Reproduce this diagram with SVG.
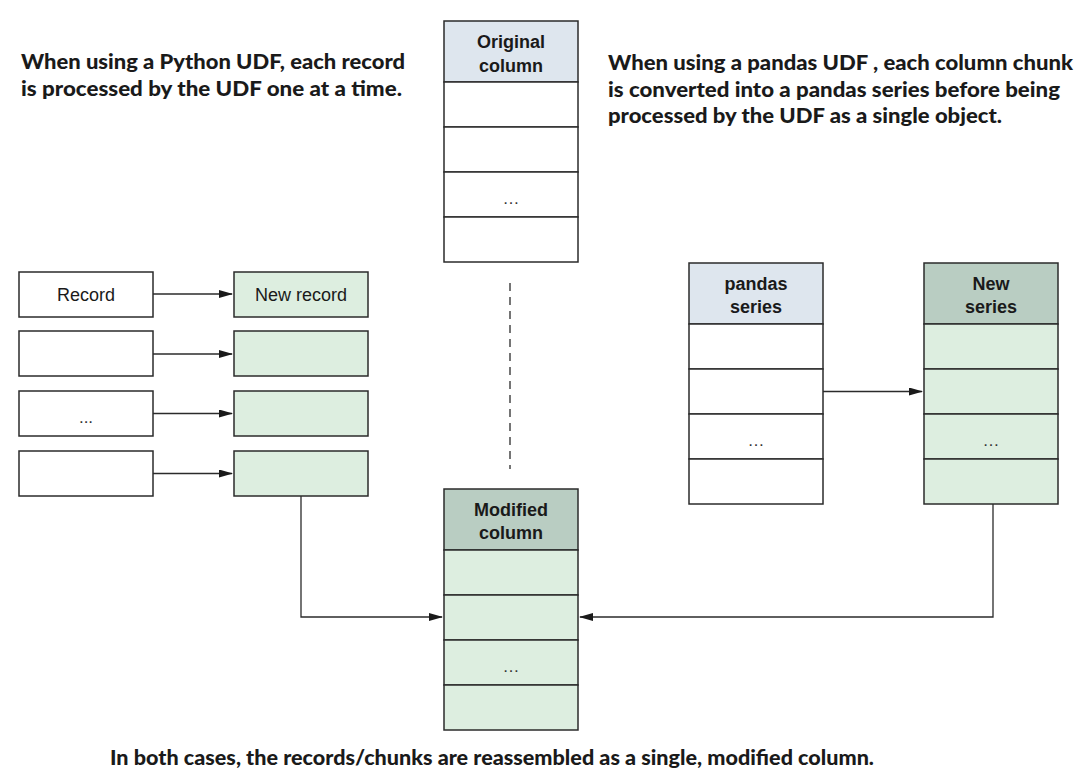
<svg xmlns="http://www.w3.org/2000/svg" width="1084" height="784" viewBox="0 0 1084 784">
<defs>
<marker id="ah" markerWidth="14" markerHeight="8" refX="13" refY="4" orient="auto" markerUnits="userSpaceOnUse">
<path d="M0,0 L14,4 L0,8 Z" fill="#1a1a1a"/>
</marker>
<style>
.box{stroke:#2b2b2b;stroke-width:1.5}
.w{fill:#ffffff}
.blue{fill:#dee6ee}
.dg{fill:#b9cdc2}
.lg{fill:#ddeee0}
.hd{font-family:"Liberation Sans",Arial,sans-serif;font-weight:bold;font-size:18px;fill:#1a1a1a;text-anchor:middle}
.rg{font-family:"Liberation Sans",Arial,sans-serif;font-size:18px;fill:#1a1a1a;text-anchor:middle}
.el{font-family:"Liberation Sans",Arial,sans-serif;font-size:17px;fill:#333;text-anchor:middle}
.an{font-family:Lato,"Open Sans",sans-serif;font-weight:900;font-size:21px;fill:#1a1a1a}
.conn{fill:none;stroke:#2b2b2b;stroke-width:1.3}
</style>
</defs>
<rect width="1084" height="784" fill="#ffffff"/>

<g id="note-left">
<text class="an" x="21" y="69" textLength="384" lengthAdjust="spacingAndGlyphs">When using a Python UDF, each record</text>
<text class="an" x="21" y="96" textLength="381" lengthAdjust="spacingAndGlyphs">is processed by the UDF one at a time.</text>
</g>
<g id="note-right">
<text class="an" x="608" y="70" textLength="465" lengthAdjust="spacingAndGlyphs">When using a pandas UDF , each column chunk</text>
<text class="an" x="608" y="97" textLength="452" lengthAdjust="spacingAndGlyphs">is converted into a pandas series before being</text>
<text class="an" x="608" y="123" textLength="394" lengthAdjust="spacingAndGlyphs">processed by the UDF as a single object.</text>
</g>
<g id="note-bottom">
<text class="an" x="110" y="765" textLength="764" lengthAdjust="spacingAndGlyphs">In both cases, the records/chunks are reassembled as a single, modified column.</text>
</g>

<g id="original-column">
<rect class="box blue" x="444" y="21" width="134" height="61"/>
<rect class="box w" x="444" y="82" width="134" height="45"/>
<rect class="box w" x="444" y="127" width="134" height="45"/>
<rect class="box w" x="444" y="172" width="134" height="45"/>
<rect class="box w" x="444" y="217" width="134" height="45"/>
<text class="hd" x="511" y="48">Original</text>
<text class="hd" x="511" y="72">column</text>
<text class="el" x="511" y="204">…</text>
</g>

<g id="record-1">
<rect class="box w" x="19" y="272" width="134" height="45"/>
<text class="rg" x="86" y="301">Record</text>
</g>
<g id="record-2"><rect class="box w" x="19" y="331" width="134" height="45"/></g>
<g id="record-3">
<rect class="box w" x="19" y="391" width="134" height="45"/>
<text class="el" x="86" y="423">...</text>
</g>
<g id="record-4"><rect class="box w" x="19" y="451" width="134" height="45"/></g>

<g id="new-record-1">
<rect class="box lg" x="234" y="272" width="134" height="45"/>
<text class="rg" x="301" y="301">New record</text>
</g>
<g id="new-record-2"><rect class="box lg" x="234" y="331" width="134" height="45"/></g>
<g id="new-record-3"><rect class="box lg" x="234" y="391" width="134" height="45"/></g>
<g id="new-record-4"><rect class="box lg" x="234" y="451" width="134" height="45"/></g>

<g id="pandas-series">
<rect class="box blue" x="689" y="263" width="134" height="61"/>
<rect class="box w" x="689" y="324" width="134" height="45"/>
<rect class="box w" x="689" y="369" width="134" height="45"/>
<rect class="box w" x="689" y="414" width="134" height="45"/>
<rect class="box w" x="689" y="459" width="134" height="45"/>
<text class="hd" x="756" y="290">pandas</text>
<text class="hd" x="756" y="313">series</text>
<text class="el" x="756" y="446">…</text>
</g>

<g id="new-series">
<rect class="box dg" x="924" y="263" width="134" height="61"/>
<rect class="box lg" x="924" y="324" width="134" height="45"/>
<rect class="box lg" x="924" y="369" width="134" height="45"/>
<rect class="box lg" x="924" y="414" width="134" height="45"/>
<rect class="box lg" x="924" y="459" width="134" height="45"/>
<text class="hd" x="991" y="290">New</text>
<text class="hd" x="991" y="313">series</text>
<text class="el" x="991" y="446">…</text>
</g>

<g id="modified-column">
<rect class="box dg" x="444" y="489" width="134" height="61"/>
<rect class="box lg" x="444" y="550" width="134" height="45"/>
<rect class="box lg" x="444" y="595" width="134" height="45"/>
<rect class="box lg" x="444" y="640" width="134" height="45"/>
<rect class="box lg" x="444" y="685" width="134" height="45"/>
<text class="hd" x="511" y="516">Modified</text>
<text class="hd" x="511" y="539">column</text>
<text class="el" x="511" y="672">…</text>
</g>

<g id="connectors">
<line class="conn" x1="153" y1="294" x2="232" y2="294" marker-end="url(#ah)"/>
<line class="conn" x1="153" y1="354" x2="232" y2="354" marker-end="url(#ah)"/>
<line class="conn" x1="153" y1="413.5" x2="232" y2="413.5" marker-end="url(#ah)"/>
<line class="conn" x1="153" y1="473.5" x2="232" y2="473.5" marker-end="url(#ah)"/>
<line class="conn" x1="823" y1="391.5" x2="922" y2="391.5" marker-end="url(#ah)"/>
<polyline class="conn" points="301,496 301,617 442,617" marker-end="url(#ah)"/>
<polyline class="conn" points="993,504 993,617 580,617" marker-end="url(#ah)"/>
<line class="conn" x1="510" y1="283" x2="510" y2="469" stroke-dasharray="8,6"/>
</g>
</svg>
